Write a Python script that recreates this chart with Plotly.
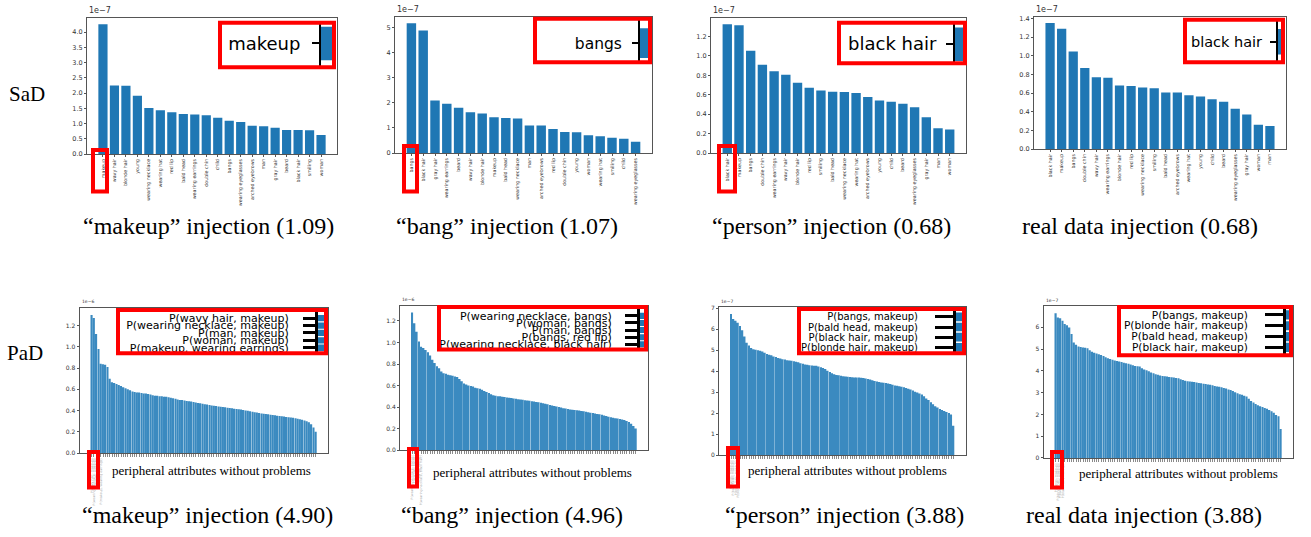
import plotly.graph_objects as go

W, H = 1311, 537

# ---------------- SaD: single-attribute scores (axis offset 1e-7) ----------------
sad_makeup_attrs = ["makeup", "wavy hair", "blonde hair", "young", "wearing necklace", "wearing hat",
                    "red lip", "bald head", "wearing earrings", "double chin", "child", "bangs",
                    "wearing eyeglasses", "arched eyebrows", "man", "gray hair", "beard", "black hair",
                    "smiling", "woman"]
sad_makeup_vals = [4.26, 2.25, 2.24, 1.91, 1.51, 1.44, 1.37, 1.31, 1.30, 1.27, 1.19, 1.09,
                   1.05, 0.93, 0.91, 0.86, 0.79, 0.79, 0.78, 0.62]

sad_bang_attrs = ["bangs", "black hair", "gray hair", "wearing earrings", "beard", "wavy hair",
                  "blonde hair", "makeup", "bald head", "wearing necklace", "man", "arched eyebrows",
                  "red lip", "double chin", "young", "woman", "wearing hat", "smiling", "child",
                  "wearing eyeglasses"]
sad_bang_vals = [5.16, 4.87, 2.09, 1.96, 1.80, 1.62, 1.57, 1.42, 1.39, 1.37, 1.09, 1.09,
                 0.96, 0.84, 0.83, 0.71, 0.67, 0.61, 0.57, 0.45]

sad_person_attrs = ["black hair", "makeup", "bangs", "double chin", "wearing earrings", "wavy hair",
                    "blonde hair", "red lip", "smiling", "bald head", "wearing necklace", "wearing hat",
                    "arched eyebrows", "young", "child", "beard", "wearing eyeglasses", "gray hair",
                    "man", "woman"]
sad_person_vals = [1.326, 1.316, 1.054, 0.910, 0.842, 0.805, 0.723, 0.672, 0.644, 0.631, 0.627,
                   0.617, 0.576, 0.542, 0.528, 0.508, 0.470, 0.368, 0.256, 0.242]

sad_real_attrs = ["black hair", "makeup", "bangs", "double chin", "wavy hair", "wearing earrings",
                  "blonde hair", "red lip", "wearing necklace", "smiling", "bald head", "arched eyebrows",
                  "wearing hat", "young", "child", "beard", "wearing eyeglasses", "gray hair",
                  "woman", "man"]
sad_real_vals = [1.351, 1.290, 1.046, 0.869, 0.770, 0.766, 0.681, 0.677, 0.660, 0.652, 0.606,
                 0.606, 0.578, 0.564, 0.535, 0.507, 0.433, 0.372, 0.262, 0.248]

# ---------------- PaD: pair-attribute scores, sorted descending ----------------
pad_makeup_vals = [  # x 1e-6
    1.30, 1.27, 1.12, 0.98, 0.84, 0.835, 0.83, 0.81, 0.70, 0.665,
    0.66, 0.65, 0.64, 0.63, 0.62, 0.61, 0.60, 0.59, 0.58, 0.575,
    0.57, 0.57, 0.565, 0.56, 0.56, 0.555, 0.55, 0.545, 0.54, 0.54,
    0.535, 0.535, 0.53, 0.53, 0.525, 0.52, 0.515, 0.51, 0.505, 0.50,
    0.50, 0.495, 0.49, 0.487, 0.484, 0.48, 0.476, 0.472, 0.468, 0.464,
    0.46, 0.456, 0.452, 0.448, 0.445, 0.442, 0.439, 0.436, 0.433, 0.43,
    0.427, 0.424, 0.421, 0.418, 0.415, 0.412, 0.409, 0.405, 0.401, 0.397,
    0.393, 0.389, 0.385, 0.381, 0.377, 0.373, 0.37, 0.367, 0.364, 0.361,
    0.358, 0.355, 0.352, 0.349, 0.346, 0.343, 0.34, 0.337, 0.334, 0.331,
    0.327, 0.323, 0.318, 0.313, 0.307, 0.30, 0.29, 0.27, 0.24, 0.20]
pad_bang_vals = [  # x 1e-6
    1.28, 1.18, 1.10, 1.01, 0.96, 0.95, 0.93, 0.91, 0.88, 0.84,
    0.81, 0.78, 0.76, 0.73, 0.715, 0.71, 0.70, 0.695, 0.69, 0.685,
    0.68, 0.66, 0.64, 0.62, 0.61, 0.60, 0.595, 0.59, 0.58, 0.575,
    0.57, 0.56, 0.55, 0.54, 0.53, 0.52, 0.51, 0.505, 0.50, 0.50,
    0.495, 0.493, 0.49, 0.487, 0.484, 0.48, 0.477, 0.473, 0.47, 0.467,
    0.464, 0.46, 0.458, 0.455, 0.452, 0.448, 0.444, 0.44, 0.435, 0.43,
    0.426, 0.42, 0.415, 0.41, 0.405, 0.40, 0.395, 0.39, 0.386, 0.382,
    0.378, 0.375, 0.372, 0.37, 0.367, 0.364, 0.36, 0.356, 0.352, 0.348,
    0.344, 0.34, 0.336, 0.332, 0.328, 0.322, 0.316, 0.31, 0.305, 0.30,
    0.297, 0.294, 0.29, 0.285, 0.28, 0.27, 0.26, 0.245, 0.225, 0.20]
pad_person_vals = [  # x 1e-7
    6.72, 6.48, 6.40, 6.30, 6.15, 5.95, 5.65, 5.35, 5.22, 5.10,
    5.04, 5.02, 5.00, 4.97, 4.93, 4.88, 4.82, 4.78, 4.75, 4.70,
    4.67, 4.63, 4.60, 4.57, 4.55, 4.52, 4.50, 4.49, 4.47, 4.45,
    4.42, 4.38, 4.35, 4.32, 4.30, 4.28, 4.27, 4.26, 4.25, 4.22,
    4.18, 4.15, 4.10, 4.02, 3.96, 3.90, 3.85, 3.82, 3.80, 3.78,
    3.76, 3.74, 3.73, 3.72, 3.71, 3.70, 3.70, 3.69, 3.68, 3.67,
    3.65, 3.62, 3.60, 3.57, 3.53, 3.50, 3.48, 3.46, 3.45, 3.43,
    3.41, 3.38, 3.35, 3.32, 3.30, 3.28, 3.26, 3.23, 3.20, 3.16,
    3.12, 3.07, 3.02, 2.98, 2.93, 2.88, 2.80, 2.70, 2.62, 2.52,
    2.42, 2.33, 2.26, 2.20, 2.15, 2.10, 2.05, 2.00, 1.93, 1.40]
pad_real_vals = [  # x 1e-7
    6.65, 6.45, 6.42, 6.30, 6.15, 6.10, 6.00, 5.70, 5.30, 5.20,
    5.12, 5.10, 5.08, 5.06, 5.04, 4.95, 4.88, 4.84, 4.80, 4.77,
    4.73, 4.68, 4.63, 4.58, 4.55, 4.51, 4.48, 4.46, 4.43, 4.41,
    4.38, 4.35, 4.33, 4.30, 4.26, 4.23, 4.21, 4.20, 4.12, 4.07,
    4.03, 3.98, 3.93, 3.89, 3.85, 3.82, 3.79, 3.77, 3.75, 3.74,
    3.72, 3.71, 3.70, 3.68, 3.66, 3.62, 3.58, 3.55, 3.53, 3.51,
    3.50, 3.49, 3.47, 3.45, 3.43, 3.41, 3.40, 3.38, 3.36, 3.34,
    3.31, 3.29, 3.27, 3.25, 3.22, 3.19, 3.15, 3.12, 3.08, 3.02,
    2.97, 2.93, 2.90, 2.86, 2.82, 2.72, 2.62, 2.55, 2.48, 2.42,
    2.38, 2.34, 2.30, 2.26, 2.21, 2.15, 2.08, 1.98, 1.92, 1.33]

# top-ranked pairs of each PaD panel (shown enlarged in the insets)
pad_makeup_top = ["P(wavy hair, makeup)", "P(wearing necklace, makeup)", "P(man, makeup)",
                  "P(woman, makeup)", "P(makeup, wearing earrings)"]
pad_bang_top = ["P(wearing necklace, bangs)", "P(woman, bangs)", "P(man, bangs)",
                "P(bangs, red lip)", "P(wearing necklace, black hair)"]
pad_person_top = ["P(bangs, makeup)", "P(bald head, makeup)", "P(black hair, makeup)",
                  "P(blonde hair, makeup)"]
pad_real_top = ["P(bangs, makeup)", "P(blonde hair, makeup)", "P(bald head, makeup)",
                "P(black hair, makeup)"]

captions_top = ["“makeup” injection (1.09)", "“bang” injection (1.07)",
                "“person” injection (0.68)", "real data injection (0.68)"]
captions_bottom = ["“makeup” injection (4.90)", "“bang” injection (4.96)",
                   "“person” injection (3.88)", "real data injection (3.88)"]
row_labels = ["SaD", "PaD"]
pad_xlabel = "peripheral attributes without problems"

# ---------------- styling / layout helpers ----------------
SANS = "DejaVu Sans"
SERIF = "Liberation Serif"
BLUE = "#1f77b4"
PAD_BLUE = "#3b8ac0"
FRAME = "#555555"
RED = "#ff0000"


def xdom(x0, x1):
    return [x0 / W, x1 / W]


def ydom(y0, y1):
    return [1 - y1 / H, 1 - y0 / H]


def mpl_xrange(n, width=0.8):
    pad = 0.05 * (n - 1 + width)
    return [-width / 2 - pad, n - 1 + width / 2 + pad]


def key(kind, n):
    return f"{kind}axis" if n == 1 else f"{kind}axis{n}"


def ref(kind, n):
    return kind if n == 1 else f"{kind}{n}"


fig = go.Figure()
axes = {}
annotations = []
shapes = []


def red_box(x0, x1, y0, y1):
    shapes.append(dict(type="rect", xref="paper", yref="paper", layer="above",
                       x0=(x0 + 2) / W, x1=(x1 - 2) / W, y0=1 - (y1 - 2) / H, y1=1 - (y0 + 2) / H,
                       line=dict(color=RED, width=4), fillcolor="rgba(0,0,0,0)"))


def offset_text(text, x, y, size):
    annotations.append(dict(text=text, xref="paper", yref="paper", x=x / W, y=1 - y / H,
                            xanchor="left", yanchor="bottom", showarrow=False,
                            font=dict(family=SANS, size=size, color="#333")))


def frame_axis(**kw):
    base = dict(showline=True, mirror=True, linecolor=FRAME, linewidth=1, ticks="outside",
                ticklen=2, tickwidth=1, tickcolor=FRAME, showgrid=False, zeroline=False,
                fixedrange=True)
    base.update(kw)
    return base


# ---------------- SaD row ----------------
sad_panels = [
    dict(attrs=sad_makeup_attrs, vals=sad_makeup_vals, box=(87, 337, 15, 153), dtick=0.5, fmt=".1f"),
    dict(attrs=sad_bang_attrs, vals=sad_bang_vals, box=(395, 652, 14, 152), dtick=1, fmt="d"),
    dict(attrs=sad_person_attrs, vals=sad_person_vals, box=(711, 966, 15, 152), dtick=0.2, fmt=".1f"),
    dict(attrs=sad_real_attrs, vals=sad_real_vals, box=(1034, 1286, 14, 148), dtick=0.2, fmt=".1f"),
]

n = 0
for p in sad_panels:
    n += 1
    x0, x1, y0, y1 = p["box"]
    fig.add_bar(x=p["attrs"], y=p["vals"], width=0.8, marker=dict(color=BLUE, line=dict(width=0)),
                xaxis=ref("x", n), yaxis=ref("y", n), showlegend=False, hoverinfo="skip")
    axes[key("x", n)] = frame_axis(domain=xdom(x0, x1), anchor=ref("y", n), type="category",
                                   range=mpl_xrange(len(p["attrs"])), tickmode="array",
                                   tickvals=p["attrs"], ticktext=p["attrs"], tickangle=-90,
                                   tickfont=dict(family=SANS, size=4.8, color="#333"))
    axes[key("y", n)] = frame_axis(domain=ydom(y0, y1), anchor=ref("x", n),
                                   range=[0, 1.05 * max(p["vals"])], tickmode="linear", tick0=0,
                                   dtick=p["dtick"], tickformat=p["fmt"],
                                   tickfont=dict(family=SANS, size=6.5, color="#333"))
    offset_text("1e−7", x0, y0 - 1, 8)

# ---------------- PaD row ----------------
pad_panels = [
    dict(vals=pad_makeup_vals, top=pad_makeup_top, box=(79.5, 328, 309, 456), dtick=0.2, fmt=".1f", off="1e−6"),
    dict(vals=pad_bang_vals, top=pad_bang_top, box=(400, 648, 306.5, 453), dtick=0.2, fmt=".1f", off="1e−6"),
    dict(vals=pad_person_vals, top=pad_person_top, box=(719, 965.5, 308, 458), dtick=1, fmt="d", off="1e−7"),
    dict(vals=pad_real_vals, top=pad_real_top, box=(1043.5, 1293, 307, 461), dtick=1, fmt="d", off="1e−7"),
]

for p in pad_panels:
    n += 1
    x0, x1, y0, y1 = p["box"]
    idx = list(range(len(p["vals"])))
    labels = [p["top"][i] if i < len(p["top"]) else "" for i in idx]
    fig.add_bar(x=idx, y=p["vals"], width=0.8, marker=dict(color=PAD_BLUE, line=dict(width=0)),
                xaxis=ref("x", n), yaxis=ref("y", n), showlegend=False, hoverinfo="skip")
    axes[key("x", n)] = frame_axis(domain=xdom(x0, x1), anchor=ref("y", n),
                                   range=mpl_xrange(len(idx)), tickmode="array", tickvals=idx,
                                   ticktext=labels, tickangle=-90, ticklen=3, tickwidth=0.6,
                                   tickcolor="#8a8a8a",
                                   tickfont=dict(family=SANS, size=3.2, color="#aaaaaa"))
    axes[key("y", n)] = frame_axis(domain=ydom(y0, y1), anchor=ref("x", n),
                                   range=[0, 1.05 * max(p["vals"])], tickmode="linear", tick0=0,
                                   dtick=p["dtick"], tickformat=p["fmt"],
                                   tickfont=dict(family=SANS, size=6, color="#333"))
    offset_text(p["off"], x0, y0 - 1.5, 4.5)

# ---------------- enlarged insets (tick labels of the leading bars) ----------------
# box: outer red frame (x0, x1, y0, y1); spine: x of the inset axis line
# tick0 / unit: pixel row of the first category and pixels per category
insets = [
    dict(labels=sad_makeup_attrs[:1], vals=sad_makeup_vals[:1], box=(218, 336, 18, 67), spine=320,
         tick0=41, unit=42.5, font=18, tl=7, tw=2, lw=2, gap=8, bw=0.8),
    dict(labels=sad_bang_attrs[:1], vals=sad_bang_vals[:1], box=(533, 652, 14, 62), spine=639,
         tick0=40.7, unit=37.5, font=15.5, tl=6, tw=2, lw=2, gap=7, bw=0.8),
    dict(labels=sad_person_attrs[:1], vals=sad_person_vals[:1], box=(837, 967, 18, 63), spine=954,
         tick0=41.7, unit=42.5, font=18, tl=7, tw=2, lw=2, gap=6, bw=0.8),
    dict(labels=sad_real_attrs[:1], vals=sad_real_vals[:1], box=(1183, 1285, 15, 62), spine=1277,
         tick0=39.3, unit=32.5, font=14.5, tl=6, tw=2, lw=2, gap=5, bw=0.8),
    dict(labels=pad_makeup_top, vals=pad_makeup_vals[:5], box=(116, 328, 309, 357), spine=316,
         tick0=319.3, unit=7.5, font=11, tl=12, tw=3, lw=3, gap=12, bw=0.85),
    dict(labels=pad_bang_top, vals=pad_bang_vals[:5], box=(437, 648, 306, 353), spine=638,
         tick0=317, unit=7.2, font=11, tl=12, tw=3, lw=3, gap=11, bw=0.85),
    dict(labels=pad_person_top, vals=pad_person_vals[:4], box=(797, 966, 308, 357), spine=954,
         tick0=318, unit=10.3, font=10, tl=18, tw=3, lw=3, gap=15, bw=0.85),
    dict(labels=pad_real_top, vals=pad_real_vals[:4], box=(1117, 1293, 306, 359), spine=1284,
         tick0=316, unit=11, font=10.6, tl=18, tw=3, lw=3, gap=15, bw=0.85),
]

for ins in insets:
    n += 1
    bx0, bx1, by0, by1 = ins["box"]
    left, right, top, bottom = bx0 + 2, bx1 - 2, by0 + 2, by1 - 2
    frac = (ins["spine"] - left) / (right - left)
    r = 0.5 * min(ins["vals"])
    fig.add_bar(x=ins["vals"], y=ins["labels"], orientation="h", width=ins["bw"],
                marker=dict(color=BLUE, line=dict(width=0)),
                xaxis=ref("x", n), yaxis=ref("y", n), showlegend=False, hoverinfo="skip")
    axes[key("x", n)] = dict(domain=xdom(left, right), anchor=ref("y", n),
                             range=[-frac / (1 - frac) * r, r], visible=False, fixedrange=True)
    axes[key("y", n)] = dict(domain=ydom(top, bottom), anchor="free", position=ins["spine"] / W,
                             side="left", type="category", categoryorder="array",
                             categoryarray=ins["labels"],
                             range=[(bottom - ins["tick0"]) / ins["unit"], -(ins["tick0"] - top) / ins["unit"]],
                             tickmode="array", tickvals=ins["labels"], ticktext=ins["labels"],
                             showline=True, linecolor="black", linewidth=ins["lw"],
                             ticks="outside", ticklen=ins["tl"], tickwidth=ins["tw"], tickcolor="black",
                             ticklabelstandoff=ins["gap"],
                             tickfont=dict(family=SANS, size=ins["font"], color="black"),
                             showgrid=False, zeroline=False, fixedrange=True)
    red_box(*ins["box"])

# ---------------- highlight frames around the leading tick labels ----------------
for b in [(91, 109, 147, 193), (402, 419, 143, 193), (717, 737, 143, 193),
          (87, 100, 453, 493), (407, 419, 450, 492), (726, 740, 449, 492), (1050, 1064, 453, 493)]:
    red_box(*b)

# ---------------- text ----------------
for cx, cy in [(211.5, 474), (532, 475.5), (847.5, 474), (1178.5, 476.5)]:
    annotations.append(dict(text=pad_xlabel, xref="paper", yref="paper", x=cx / W, y=1 - cy / H,
                            xanchor="center", yanchor="middle", showarrow=False,
                            font=dict(family=SERIF, size=13, color="black")))

for text, cx in zip(captions_top, [209, 507, 832, 1140]):
    annotations.append(dict(text=text, xref="paper", yref="paper", x=cx / W, y=1 - 226 / H,
                            xanchor="center", yanchor="middle", showarrow=False,
                            font=dict(family=SERIF, size=24, color="black")))
for text, cx in zip(captions_bottom, [207.5, 511.5, 844, 1143.5]):
    annotations.append(dict(text=text, xref="paper", yref="paper", x=cx / W, y=1 - 519 / H,
                            xanchor="center", yanchor="middle", showarrow=False,
                            font=dict(family=SERIF, size=24, color="black")))

for text, cx, cy in zip(row_labels, [27.5, 25], [92, 355]):
    annotations.append(dict(text=text, xref="paper", yref="paper", x=cx / W, y=1 - cy / H,
                            xanchor="center", yanchor="middle", showarrow=False,
                            font=dict(family=SERIF, size=21, color="black")))

fig.update_layout(width=W, height=H, margin=dict(l=0, r=0, t=0, b=0, pad=0),
                  paper_bgcolor="white", plot_bgcolor="white", showlegend=False,
                  annotations=annotations, shapes=shapes, **axes)

fig.write_html("out.html")
